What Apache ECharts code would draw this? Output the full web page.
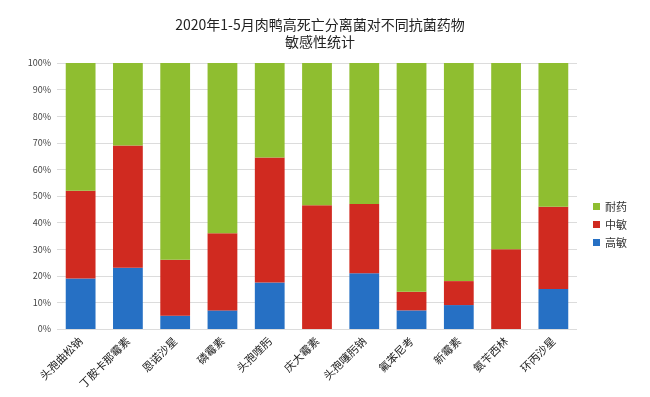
<!DOCTYPE html>
<html>
<head>
<meta charset="utf-8">
<script src="https://cdn.jsdelivr.net/npm/echarts@6/dist/echarts.min.js"></script>
<style>
  html, body { margin: 0; padding: 0; background: #fff; }
  #chart { width: 650px; height: 397px; }
</style>
</head>
<body>
<div id="chart"></div>
<script>
// drug names
const drugs = ['头孢曲松钠', '丁胺卡那霉素', '恩诺沙星', '磷霉素', '头孢喹肟', '庆大霉素', '头孢噻肟钠', '氟苯尼考', '新霉素', '氨苄西林', '环丙沙星'];
// percent of isolates per class
const highSens = [19, 23, 5, 7, 17.5, 0, 21, 7, 9, 0, 15];
const midSens = [33, 46, 21, 29, 47, 46.5, 26, 7, 9, 30, 31];
const resistant = [48, 31, 74, 64, 35.5, 53.5, 53, 86, 82, 70, 54];
const yTicks = ['0%', '10%', '20%', '30%', '40%', '50%', '60%', '70%', '80%', '90%', '100%'];

const font = '"Noto Sans CJK SC", "Noto Sans", sans-serif';
const myChart = echarts.init(document.getElementById('chart'));

const option = {
  animation: false,
  textStyle: { fontFamily: font },
  title: {
    text: '2020年1-5月肉鸭高死亡分离菌对不同抗菌药物\n敏感性统计',
    left: 315,
    top: 11,
    textAlign: 'center',
    textStyle: { fontSize: 14, fontWeight: 'normal', color: '#222', lineHeight: 17, fontFamily: font }
  },
  legend: {
    orient: 'vertical',
    left: 588,
    top: 196,
    itemWidth: 7,
    itemHeight: 7,
    itemGap: 7,
    icon: 'rect',
    data: ['耐药', '中敏', '高敏'],
    textStyle: { fontSize: 11, color: '#333', fontFamily: font }
  },
  grid: { left: 57, right: 73, top: 63, bottom: 68, containLabel: false },
  xAxis: {
    type: 'category',
    data: drugs,
    axisLine: { show: false },
    axisTick: { show: false },
    axisLabel: { rotate: 45, fontSize: 11, color: '#222', margin: 10, interval: 0, fontFamily: font }
  },
  yAxis: {
    type: 'value',
    min: 0,
    max: 100,
    interval: 10,
    axisLine: { show: false },
    axisTick: { show: false },
    splitLine: { lineStyle: { color: '#dcdcdc', width: 1 } },
    axisLabel: {
      fontSize: 9,
      color: '#444',
      margin: 6,
      formatter: function (v) { return yTicks[Math.round(v / 10)]; }
    }
  },
  series: [
    { name: '高敏', type: 'bar', stack: 'all', barWidth: '63%', data: highSens, itemStyle: { color: '#2670c4' } },
    { name: '中敏', type: 'bar', stack: 'all', barWidth: '63%', data: midSens, itemStyle: { color: '#d02a20' } },
    { name: '耐药', type: 'bar', stack: 'all', barWidth: '63%', data: resistant, itemStyle: { color: '#8fbe30' } }
  ]
};

myChart.setOption(option);
</script>
</body>
</html>
